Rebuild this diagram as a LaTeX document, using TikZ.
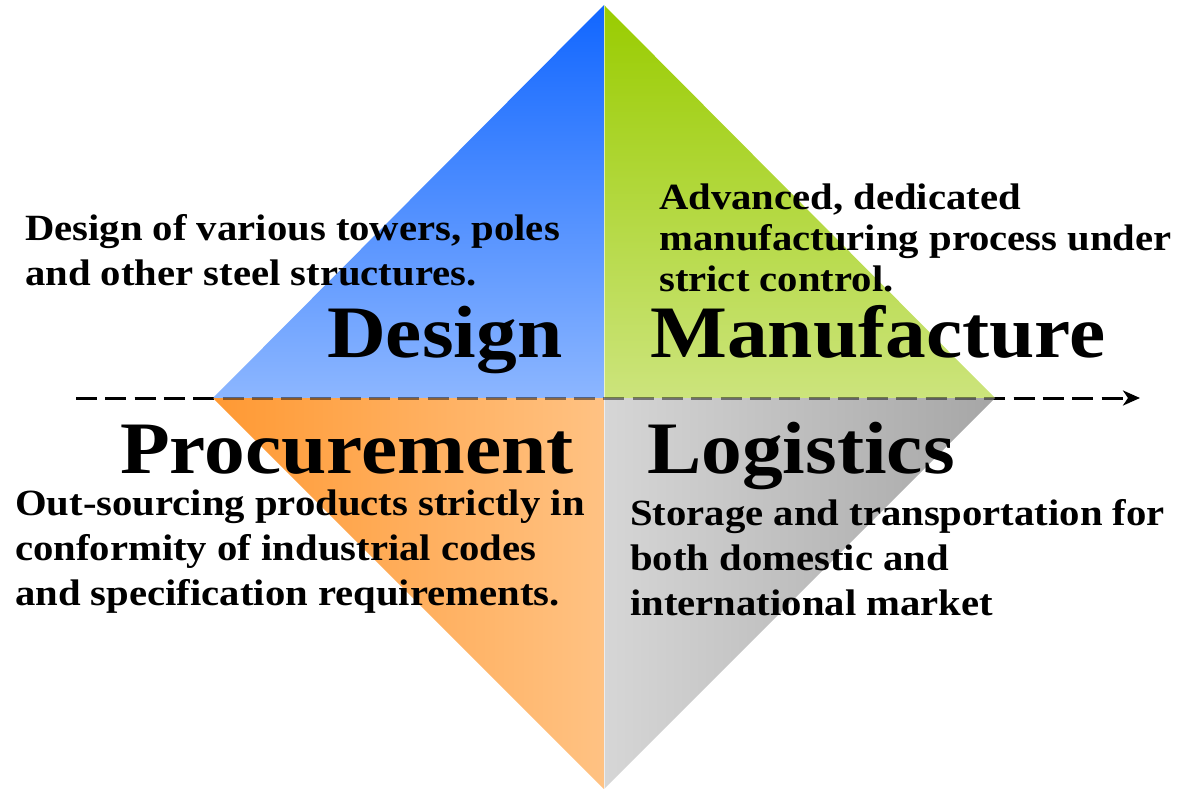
\documentclass[tikz,border=0pt]{standalone}
\usepackage{fontspec}
\setmainfont{Liberation Serif}[FakeStretch=1.1]
\usetikzlibrary{arrows.meta}
\definecolor{dtop}{HTML}{1166FF}
\definecolor{dbot}{HTML}{8CB6FF}
\definecolor{mtop}{HTML}{99CC00}
\definecolor{mbot}{HTML}{CCE47C}
\definecolor{pleft}{HTML}{FF9933}
\definecolor{pright}{HTML}{FFC283}
\definecolor{lleft}{HTML}{D6D6D6}
\definecolor{lright}{HTML}{A6A6A6}
\tikzset{
  desc/.style={anchor=base west, align=left, inner sep=0pt, font=\bfseries\fontsize{37}{45}\selectfont},
  title/.style={anchor=base west, inner sep=0pt, font=\bfseries\fontsize{74}{80}\selectfont},
  axis/.style={line width=3pt, dash pattern=on 21pt off 8.3pt},
}
\begin{document}
\begin{tikzpicture}[x=1pt,y=-1pt]
\useasboundingbox (0,0) rectangle (1183,789);
\coordinate (T) at (604,5);
\coordinate (L) at (213,398);
\coordinate (R) at (995,398);
\coordinate (B) at (604,789);
\coordinate (C) at (604,398);
\coordinate (a0) at (76,398);
\coordinate (a1) at (1140,398);
\draw[axis, -{Stealth[length=17pt,width=15pt,inset=5pt]}] (a0) -- (a1);
\shade[top color=dtop, bottom color=dbot] (T) -- (L) -- (C) -- cycle;
\shade[top color=mtop, bottom color=mbot] (T) -- (R) -- (C) -- cycle;
\shade[left color=pleft, right color=pright] (L) -- (C) -- (B) -- cycle;
\shade[left color=lleft, right color=lright] (C) -- (R) -- (B) -- cycle;
\draw[white, opacity=0.6, line width=0.8pt] (T) -- (B);
\draw[axis, draw opacity=0.45] (a0) -- (1125,398);
\node[desc] (dd) at (25,285) {Design of various towers, poles\\and other steel structures.};
\node[desc, font=\bfseries\fontsize{37}{41}\selectfont] (md) at (659,291) {Advanced, dedicated\\manufacturing process under\\strict control.};
\node[desc] (pd) at (15,605) {Out-sourcing products strictly in\\conformity of industrial codes\\and specification requirements.};
\node[desc] (ld) at (630,615) {Storage and transportation for\\both domestic and\\international market};
\node[title] (dt) at (327,357) {Design};
\node[title] (mt) at (650,357) {Manufacture};
\node[title] (pt) at (120,473) {Procurement};
\node[title] (lt) at (647,473) {Logistics};
\end{tikzpicture}
\end{document}
